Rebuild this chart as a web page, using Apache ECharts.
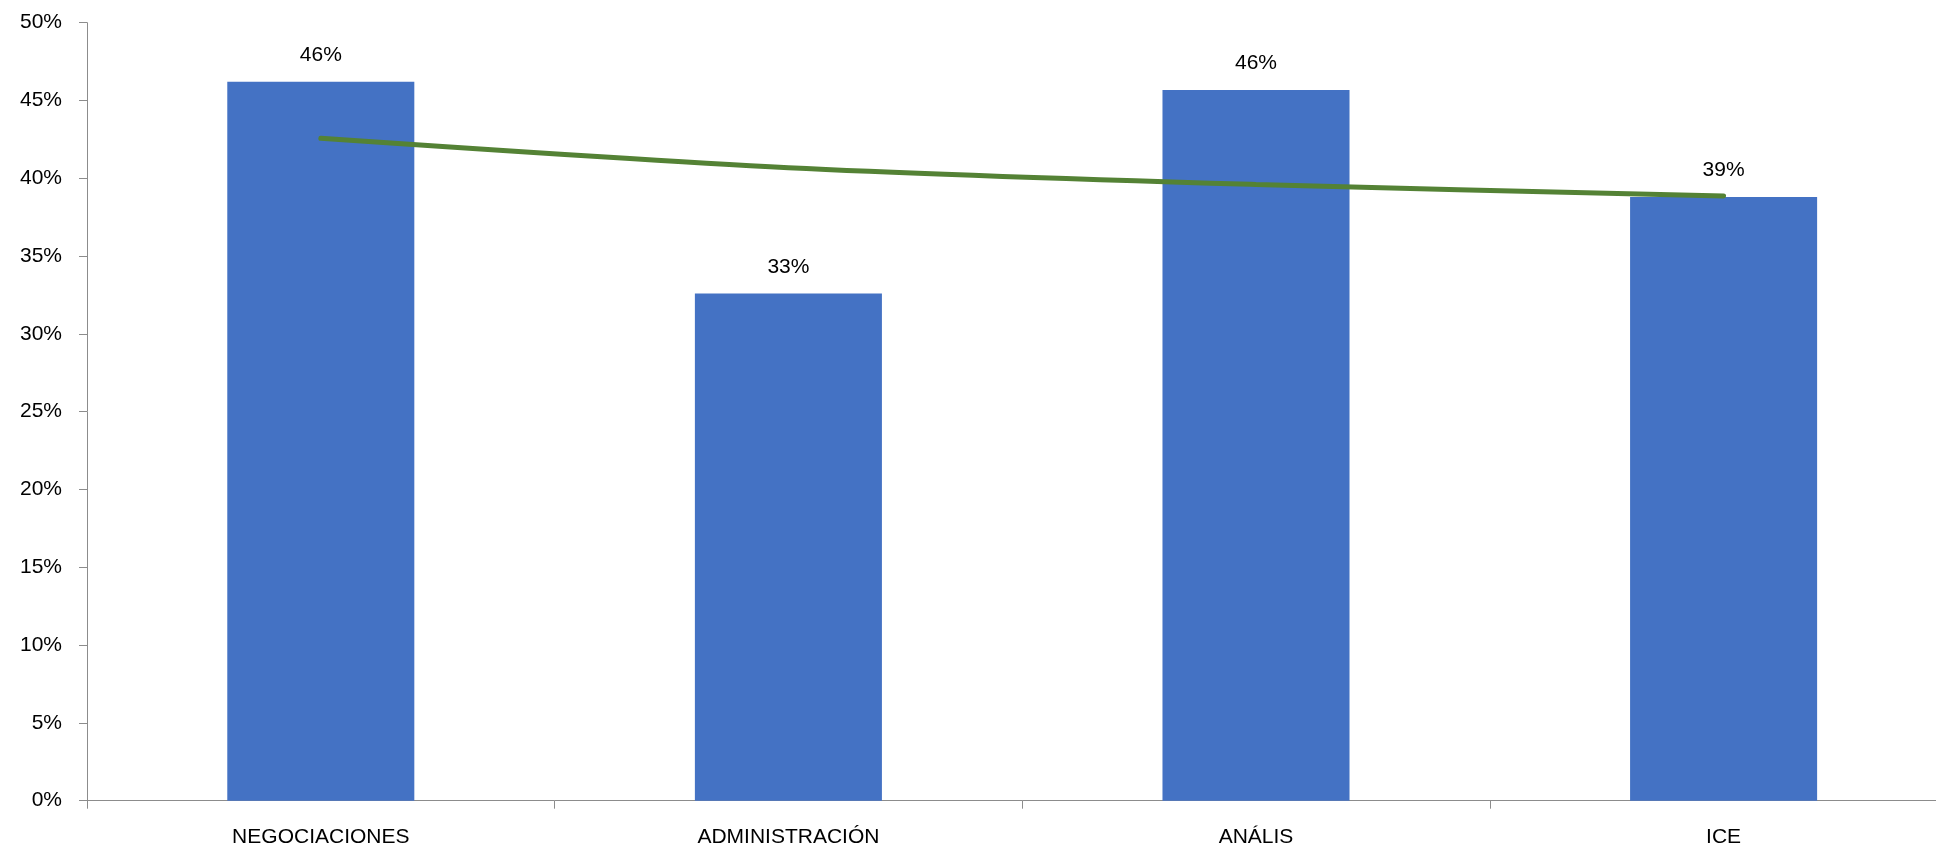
<!DOCTYPE html>
<html>
<head>
<meta charset="utf-8">
<script src="https://cdn.jsdelivr.net/npm/echarts@6/dist/echarts.min.js"></script>
<style>
html,body{margin:0;padding:0;background:#fff;overflow:hidden;width:1936px;height:848px;}
#c{width:1958px;height:848px;}
</style>
</head>
<body>
<div id="c"></div>
<script>
const categories = ['NEGOCIACIONES', 'ADMINISTRACIÓN', 'ANÁLIS', 'ICE'];
const barValues = [46.2, 32.6, 45.67, 38.8];
const barLabels = ['46%', '33%', '46%', '39%'];
const trendValues = [42.57, 40.68, 39.6, 38.86];
const yTicks = [0, 5, 10, 15, 20, 25, 30, 35, 40, 45, 50];

const FONT = 'Liberation Sans';
const chart = echarts.init(document.getElementById('c'), null, {renderer: 'canvas'});
chart.setOption({
  animation: false,
  backgroundColor: '#ffffff',
  grid: {left: 87, top: 22.7, right: 0.6, bottom: 47.3, containLabel: false},
  xAxis: {
    type: 'category',
    data: categories,
    axisLine: {lineStyle: {color: '#8c8c8c', width: 1}},
    axisTick: {show: true, length: 8, alignWithLabel: false, lineStyle: {color: '#8c8c8c'}},
    axisLabel: {color: '#000', fontFamily: FONT, fontSize: 21, margin: 26, interval: 0},
    splitLine: {show: false}
  },
  yAxis: {
    type: 'value',
    min: yTicks[0],
    max: yTicks[yTicks.length - 1],
    interval: 5,
    axisLine: {show: true, lineStyle: {color: '#8c8c8c', width: 1}},
    axisTick: {show: true, length: 8, lineStyle: {color: '#8c8c8c'}},
    axisLabel: {color: '#000', fontFamily: FONT, fontSize: 21, margin: 25, formatter: v => v + '%'},
    splitLine: {show: false}
  },
  series: [
    {
      type: 'bar',
      data: barValues,
      barWidth: '40%',
      itemStyle: {color: '#4472C4'},
      label: {
        show: true,
        position: 'top',
        distance: 16,
        color: '#000',
        fontFamily: FONT,
        fontSize: 21,
        formatter: p => barLabels[p.dataIndex]
      },
      z: 2
    },
    {
      type: 'line',
      data: trendValues,
      smooth: 0.3,
      showSymbol: false,
      symbol: 'none',
      lineStyle: {color: '#548235', width: 5, cap: 'round'},
      z: 3
    }
  ]
});
</script>
</body>
</html>
